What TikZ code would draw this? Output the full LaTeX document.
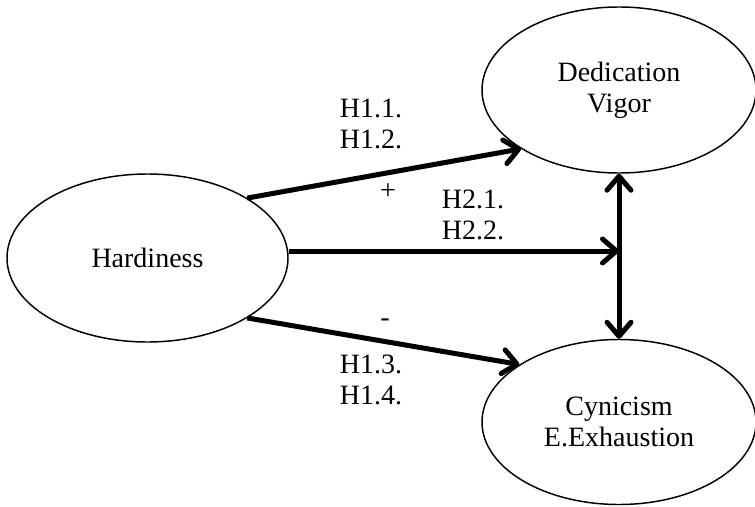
\documentclass[tikz,border=0pt]{standalone}
\usepackage{fontspec}
\setmainfont{Liberation Serif}
\usetikzlibrary{shapes.geometric,arrows.meta}
\begin{document}
\begin{tikzpicture}[x=0.75pt,y=-0.75pt,
  txt/.style={font=\fontsize{21}{23.3}\selectfont},
  construct/.style={txt,draw,ellipse,line width=1.1pt,inner sep=0pt,align=center},
  hyp/.style={txt,align=center,inner sep=0pt},
  barb/.tip={Straight Barb[length=10.5pt,width=18pt,round]},
  link/.style={line width=3.75pt,-barb},
]
\useasboundingbox (0,0) rectangle (755,506);

% latent constructs
\node[construct,minimum width=210.75pt,minimum height=126pt] (hard) at (147.5,258) {Hardiness};
\node[construct,minimum width=205.5pt,minimum height=124.5pt] (ded) at (619,90) {Dedication\\Vigor};
\node[construct,minimum width=205.5pt,minimum height=123.75pt] (cyn) at (619,422) {Cynicism\\E.Exhaustion};

% junction of the direct path with the double-headed link
\coordinate (mid) at (619,251);

% hypothesised paths
\draw[link] (hard.31) -- (ded.211.5);
\draw[link] (hard.329) -- (cyn.150);
\draw[link] (hard.east |- mid) -- (mid);
\draw[line width=3.75pt,barb-barb] (ded.south) -- (cyn.north);

% path labels
\node[hyp] (h11) at (371,124) {H1.1.\\H1.2.};
\node[hyp] (plus) at (388,192) {+};
\node[hyp] (h21) at (473,215) {H2.1.\\H2.2.};
\node[hyp] (minus) at (385,323) {-};
\node[hyp] (h13) at (371,380) {H1.3.\\H1.4.};
\end{tikzpicture}
\end{document}
